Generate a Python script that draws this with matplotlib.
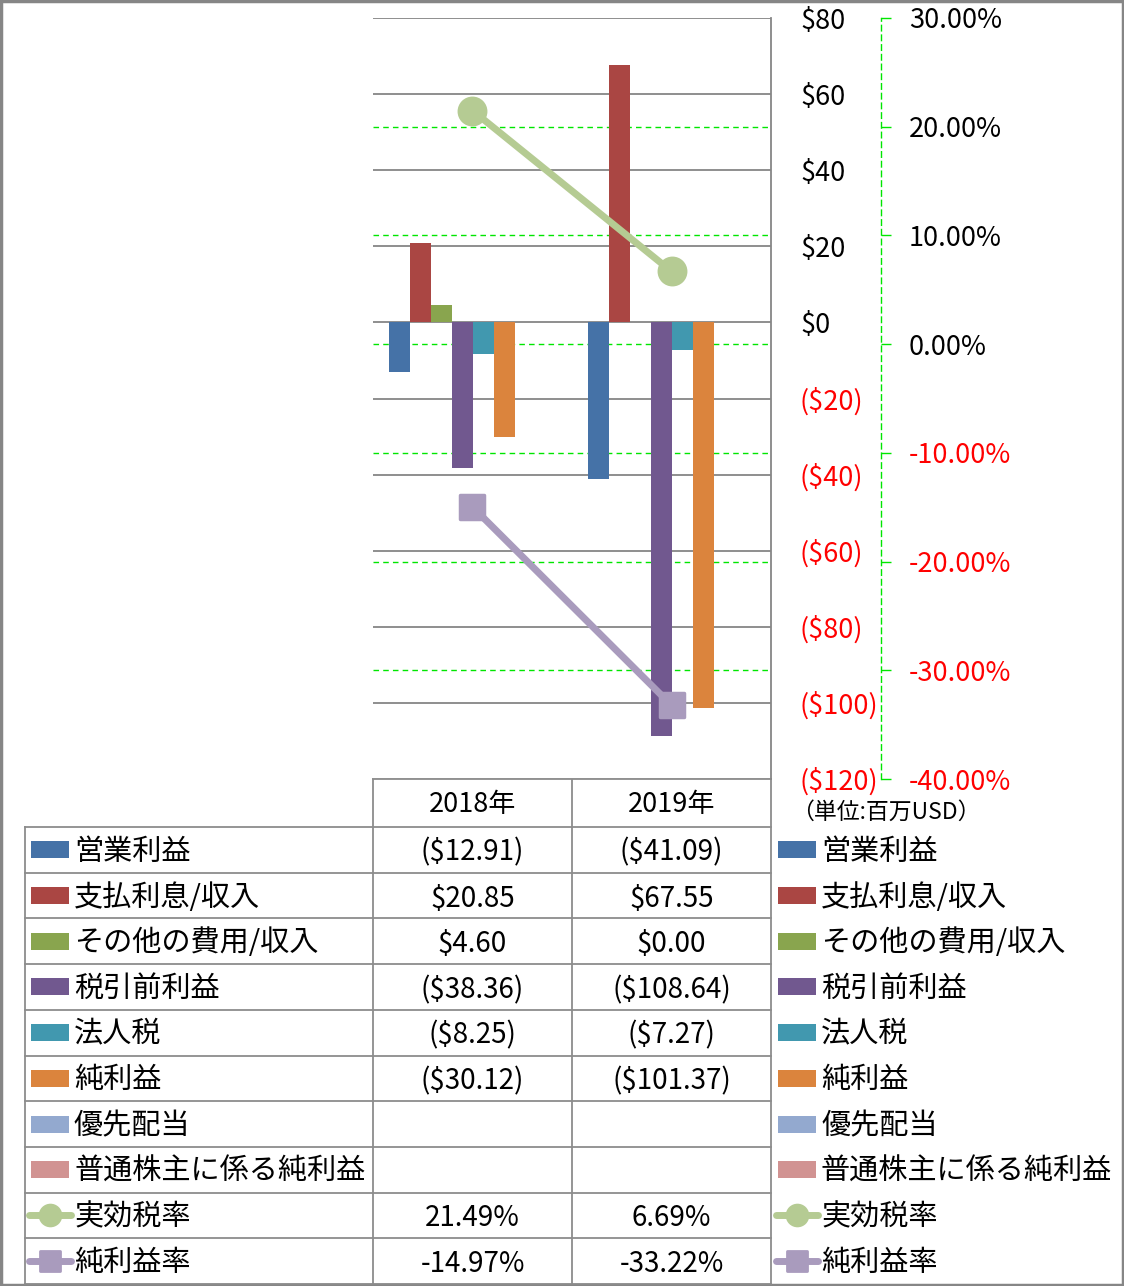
import matplotlib
matplotlib.use("Agg")
import matplotlib.pyplot as plt
from matplotlib.lines import Line2D
from matplotlib.patches import Rectangle
from matplotlib.markers import MarkerStyle
import numpy as np

plt.rcParams['font.family'] = ['Noto Sans CJK JP', 'DejaVu Sans']

# ---------------- data ----------------
years = ['2018年', '2019年']
bar_names = ['営業利益', '支払利息/収入', 'その他の費用/収入', '税引前利益', '法人税', '純利益',
             '優先配当', '普通株主に係る純利益']
op_income = [-12.91, -41.09]
interest = [20.85, 67.55]
other_exp = [4.60, 0.00]
pretax = [-38.36, -108.64]
income_tax = [-8.25, -7.27]
net_income = [-30.12, -101.37]
preferred_div = [None, None]
common_net = [None, None]
line_names = ['実効税率', '純利益率']
eff_tax_rate = [21.49, 6.69]
net_margin = [-14.97, -33.22]

bar_colors = ['#4572A7', '#AA4643', '#89A54E', '#71588F', '#4198AF', '#DB843D', '#93A9CF', '#D19392']
line_colors = ['#B5CB93', '#A99BBD']

left_ticks = list(range(-120, 81, 20))
right_ticks = [-40, -30, -20, -10, 0, 10, 20, 30]
unit_label = '（単位:百万USD）'

bar_series = [op_income, interest, other_exp, pretax, income_tax, net_income, preferred_div, common_net]
line_series = [eff_tax_rate, net_margin]

# ---------------- layout ----------------
W, H = 1124, 1286
fig = plt.figure(figsize=(W / 100, H / 100), dpi=100)
PX = 72 / 100  # points per pixel

tab = fig.add_axes([0, 0, 1, 1], zorder=0)
tab.set_xlim(0, W)
tab.set_ylim(H, 0)
tab.axis('off')

ax = fig.add_axes([373 / W, 1 - 779 / H, 398 / W, 761 / H], zorder=1)
ax2 = ax.twinx()
ax2.set_zorder(2)

x = np.arange(len(years))
bw = 21 / 199
for i, (vals, c) in enumerate(zip(bar_series, bar_colors)):
    v = [np.nan if val is None else val for val in vals]
    ax.bar(x + (i - 3.5) * bw, v, width=bw, color=c, zorder=2, linewidth=0)

ax.set_xlim(-0.5, 1.5)
ax.set_xticks([])
ax.yaxis.tick_right()
ax.set_yticks(left_ticks)

def money(v):
    return f'(${abs(v):,.0f})' if v < 0 else f'${v:,.0f}'

ax.set_yticklabels([money(t) for t in left_ticks])
ax.tick_params(axis='y', length=0, pad=29 * PX, labelsize=19.5)
for t, tk in zip(left_ticks, ax.yaxis.get_major_ticks()):
    tk.label2.set_color('red' if t < 0 else 'black')
ax.yaxis.grid(True, color='#868686', lw=1.3)
ax.set_axisbelow(True)
for s in ['top', 'left', 'bottom']:
    ax.spines[s].set_visible(False)
ax.spines['right'].set_color('#868686')
ax.spines['right'].set_linewidth(1.3)

# secondary axis
for s in ['top', 'left', 'bottom']:
    ax2.spines[s].set_visible(False)
ax2.spines['right'].set_position(('axes', (881 - 373) / 398))
ax2.spines['right'].set_color('#00E600')
ax2.spines['right'].set_linestyle((0, (4, 3)))
ax2.spines['right'].set_linewidth(1)
ax2.set_yticks(right_ticks)
ax2.set_yticklabels([f'{t:.2f}%' for t in right_ticks])
ax2.tick_params(axis='y', length=10 * PX, width=1, color='#00E600', pad=18 * PX,
                direction='out', labelsize=19.5)
for t, tk in zip(right_ticks, ax2.yaxis.get_major_ticks()):
    tk.label2.set_color('red' if t < 0 else 'black')

# green dashed gridlines of secondary axis (behind bars)
for t in right_ticks[1:-1]:
    ln = Line2D([0, 1], [t, t], transform=ax2.get_yaxis_transform(), color='#00E600',
                lw=1, linestyle=(0, (4, 3)), zorder=1)
    ax.add_line(ln)

markers = ['o', MarkerStyle('s', joinstyle='round')]
msizes = [19, 17]
for vals, c, m, ms in zip(line_series, line_colors, markers, msizes):
    ax2.plot(x, vals, color=c, lw=5, marker=m, markersize=ms, markerfacecolor=c,
             markeredgecolor=c, markeredgewidth=2.5, solid_capstyle='round', zorder=3)

ax.set_ylim(-120, 80)
ax2.set_ylim(-40, 30)

# ---------------- data table ----------------
gray = '#8C8C8C'
lw = 1.3
rows = np.linspace(827, 1284, 11)
col_x = [373, 572, 771]
tab.plot([373, 771], [779, 779], color=gray, lw=lw)
for cx in col_x:
    tab.plot([cx, cx], [779, 1284], color=gray, lw=lw)
tab.plot([25, 25], [827, 1284], color=gray, lw=lw)
for r in rows:
    tab.plot([25, 771], [r, r], color=gray, lw=lw)
for i, yr in enumerate(years):
    tab.text((col_x[i] + col_x[i + 1]) / 2, 805, yr, ha='center', va='center', fontsize=19.5)

tab.text(791, 812, unit_label, ha='left', va='center', fontsize=16.5)

def fmt_money(v):
    if v is None:
        return ''
    return f'(${abs(v):.2f})' if v < 0 else f'${v:.2f}'

all_names = bar_names + line_names
centers = (rows[:-1] + rows[1:]) / 2
for k, name in enumerate(all_names):
    yc = centers[k]
    if k < len(bar_names):
        vals = [fmt_money(v) for v in bar_series[k]]
    else:
        vals = [f'{v:.2f}%' for v in line_series[k - len(bar_names)]]
    for i, s in enumerate(vals):
        tab.text((col_x[i] + col_x[i + 1]) / 2, yc + 3, s, ha='center', va='center', fontsize=20)
    for (kx0, kx1, tx) in [(31, 69, 74), (778, 816, 821)]:
        if k < len(bar_names):
            tab.add_patch(Rectangle((kx0, yc - 8.5), kx1 - kx0, 17, color=bar_colors[k], lw=0))
        else:
            j = k - len(bar_names)
            tab.plot([kx0 - 2, kx1 + 2], [yc, yc], color=line_colors[j], lw=5,
                     solid_capstyle='round')
            tab.plot([(kx0 + kx1) / 2], [yc], color=line_colors[j], marker=markers[j],
                     markersize=15 if j == 0 else 14, markeredgewidth=2)
        tab.text(tx, yc + 2, name, ha='left', va='center', fontsize=21)

# outer frame
tab.add_patch(Rectangle((1, 1), W - 2, H - 2, fill=False, edgecolor='#868686', lw=2.5))

fig.savefig('out.png', dpi=100)
